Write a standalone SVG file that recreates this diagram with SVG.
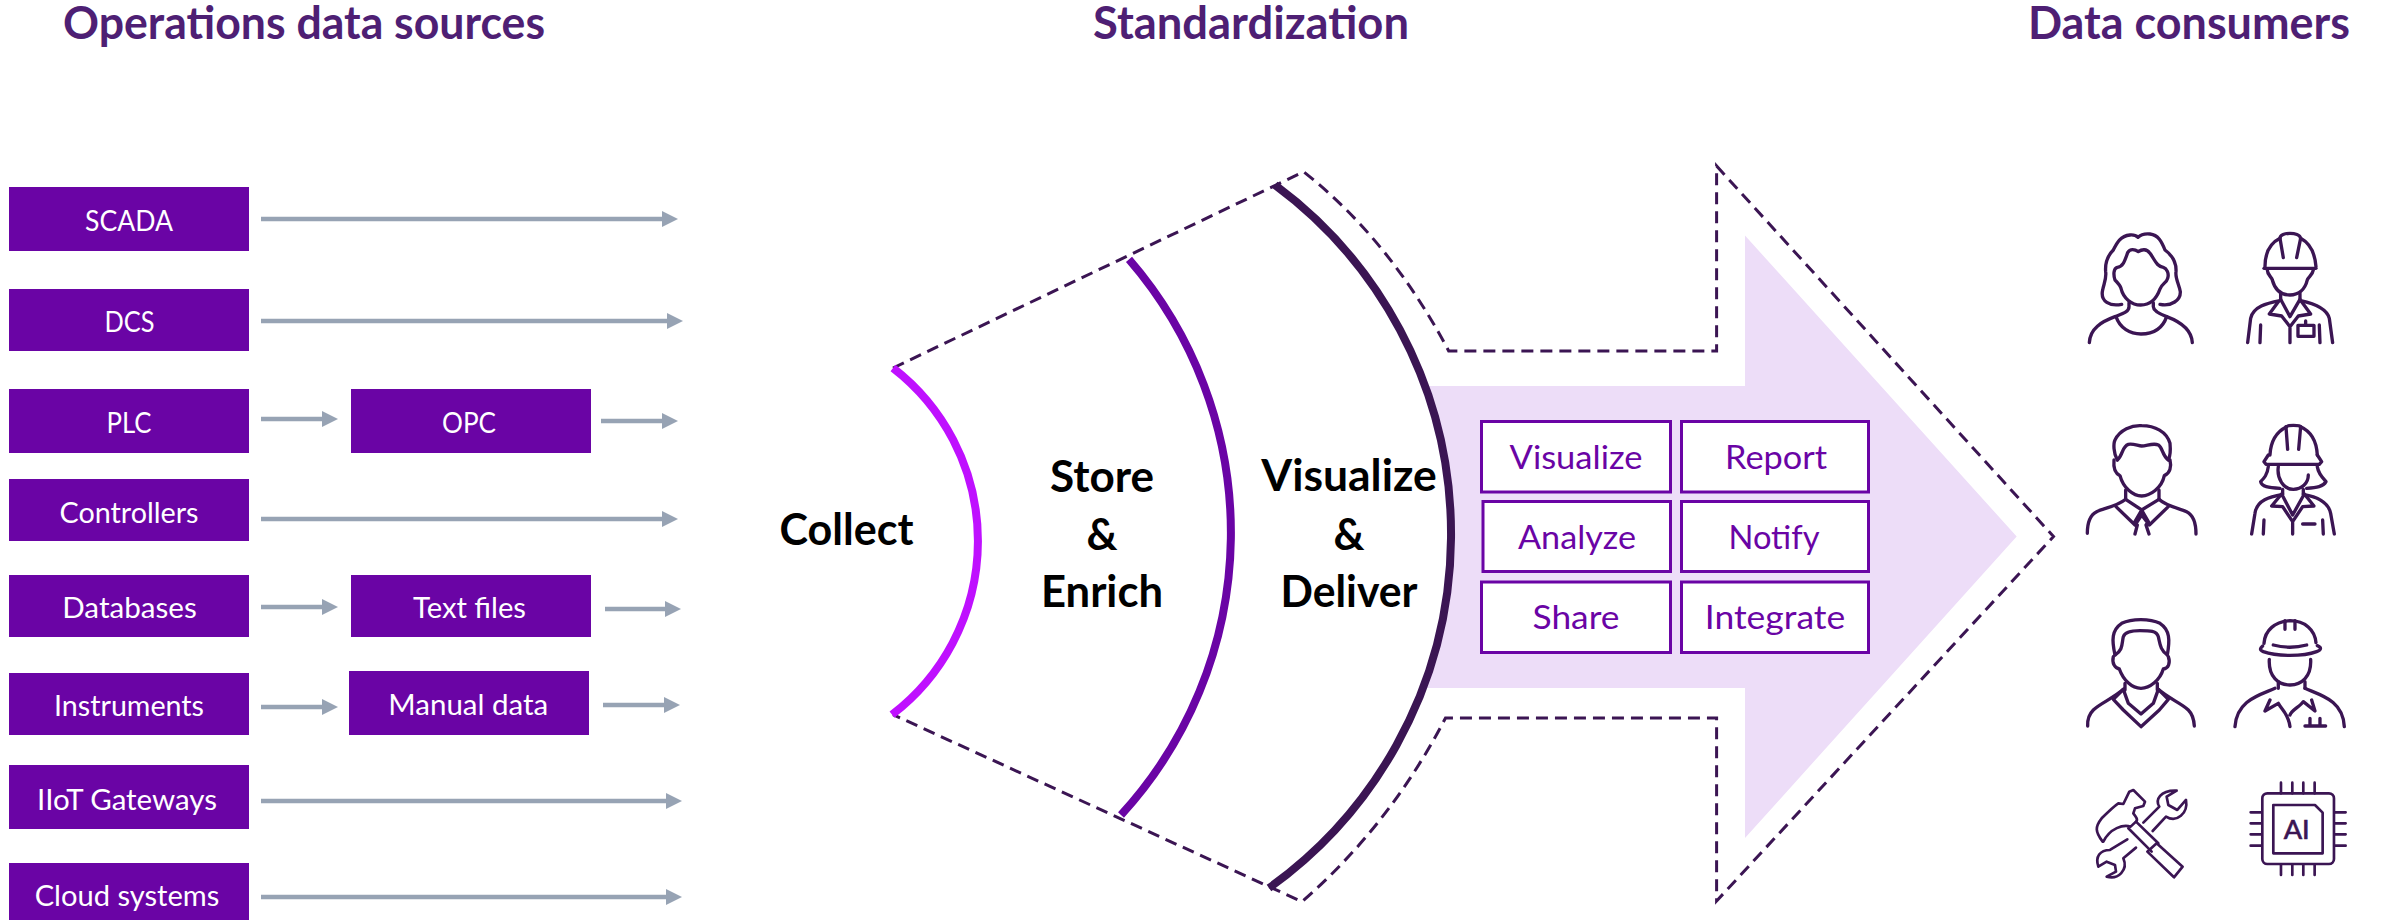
<svg xmlns="http://www.w3.org/2000/svg" width="2384" height="920" viewBox="0 0 2384 920">
<style>
text{font-family:Lato,"Liberation Sans",sans-serif;lengthAdjust:spacingAndGlyphs}
.title{font-size:45px;font-weight:700;fill:#4E1F74}
.src rect{fill:#6A04A5}
.src text{font-size:29px;fill:#fff;text-anchor:middle}
.flow{stroke:#97A3B4;stroke-width:4.5;fill:none;marker-end:url(#ah)}
.dash{fill:none;stroke:#3B1553;stroke-width:3;stroke-dasharray:12 7}
.arc{fill:none;stroke-width:8}
.stage{font-size:44px;font-weight:700;fill:#000;text-anchor:middle}
.act rect{fill:#fff;stroke:#6A04A5;stroke-width:3}
.act text{font-size:33px;fill:#6A04A5;text-anchor:middle}
.icon{fill:none;stroke:#3B1553;stroke-width:10;stroke-linecap:round;stroke-linejoin:round}
.thin{stroke-width:8}
</style>
<defs>
<marker id="ah" markerUnits="userSpaceOnUse" markerWidth="16" markerHeight="16" refX="0" refY="8" orient="auto"><path d="M0,0L16,8L0,16Z" fill="#97A3B4"/></marker>
</defs>
<text class="title" x="63" y="39" textLength="482" lengthAdjust="spacingAndGlyphs">Operations data sources</text>
<text class="title" x="1093" y="39" textLength="316" lengthAdjust="spacingAndGlyphs">Standardization</text>
<text class="title" x="2028" y="39" textLength="322" lengthAdjust="spacingAndGlyphs">Data consumers</text>

<g id="connectors">
<line class="flow" x1="261" y1="219" x2="662" y2="219"/>
<line class="flow" x1="261" y1="321" x2="667" y2="321"/>
<line class="flow" x1="261" y1="419" x2="322" y2="419"/>
<line class="flow" x1="601" y1="421" x2="662" y2="421"/>
<line class="flow" x1="261" y1="519" x2="662" y2="519"/>
<line class="flow" x1="261" y1="607" x2="322" y2="607"/>
<line class="flow" x1="605" y1="609" x2="665" y2="609"/>
<line class="flow" x1="261" y1="707" x2="322" y2="707"/>
<line class="flow" x1="603" y1="705" x2="664" y2="705"/>
<line class="flow" x1="261" y1="801" x2="666" y2="801"/>
<line class="flow" x1="261" y1="897" x2="666" y2="897"/>
</g>

<g id="scada" class="src"><rect x="9" y="187" width="240" height="64"/><text x="129" y="231" textLength="88" lengthAdjust="spacingAndGlyphs">SCADA</text></g>
<g id="dcs" class="src"><rect x="9" y="289" width="240" height="62"/><text x="129.5" y="331.5" textLength="50" lengthAdjust="spacingAndGlyphs">DCS</text></g>
<g id="plc" class="src"><rect x="9" y="389" width="240" height="64"/><text x="129" y="432.5" textLength="45" lengthAdjust="spacingAndGlyphs">PLC</text></g>
<g id="opc" class="src"><rect x="351" y="389" width="240" height="64"/><text x="469" y="432.5" textLength="54" lengthAdjust="spacingAndGlyphs">OPC</text></g>
<g id="controllers" class="src"><rect x="9" y="479" width="240" height="62"/><text x="129" y="522.5" textLength="139" lengthAdjust="spacingAndGlyphs">Controllers</text></g>
<g id="databases" class="src"><rect x="9" y="575" width="240" height="62"/><text x="129.5" y="617.5" textLength="134.5" lengthAdjust="spacingAndGlyphs">Databases</text></g>
<g id="textfiles" class="src"><rect x="351" y="575" width="240" height="62"/><text x="469.5" y="618" textLength="113" lengthAdjust="spacingAndGlyphs">Text files</text></g>
<g id="instruments" class="src"><rect x="9" y="673" width="240" height="62"/><text x="129" y="716" textLength="150" lengthAdjust="spacingAndGlyphs">Instruments</text></g>
<g id="manualdata" class="src"><rect x="349" y="671" width="240" height="64"/><text x="468.3" y="715" textLength="160" lengthAdjust="spacingAndGlyphs">Manual data</text></g>
<g id="iiot" class="src"><rect x="9" y="765" width="240" height="64"/><text x="127" y="810" textLength="180" lengthAdjust="spacingAndGlyphs">IIoT Gateways</text></g>
<g id="cloud" class="src"><rect x="9" y="863" width="240" height="57"/><text x="127" y="906" textLength="184.6" lengthAdjust="spacingAndGlyphs">Cloud systems</text></g>

<g id="arrow-fill"><path d="M1424,386L1745,386L1745,235.5L2016.7,536.5L1745,838L1745,688L1424,688A434.6,434.6 0 0 0 1424,386Z" fill="#EDDDF8"/></g>
<g id="outline"><path class="dash" d="M893,368L1303.7,171.8Q1390,240 1448.7,351L1716.6,351L1716.6,166L2053.5,536.5L1716.6,901L1716.6,718L1445.5,718Q1390,825 1302,901.7L893,714.6"/></g>

<g id="collect"><path class="arc" stroke="#BF10FF" d="M893,368A218.5,218.5 0 0 1 892,714.6"/><text class="stage" x="846.5" y="545" textLength="134" lengthAdjust="spacingAndGlyphs">Collect</text></g>
<g id="store"><path class="arc" stroke="#6A04A5" d="M1129,259.4A417.5,417.5 0 0 1 1121,815"/><text class="stage" x="1102" y="492" textLength="104" lengthAdjust="spacingAndGlyphs">Store</text><text class="stage" x="1102" y="549.5" textLength="31" lengthAdjust="spacingAndGlyphs">&amp;</text><text class="stage" x="1102" y="607" textLength="122" lengthAdjust="spacingAndGlyphs">Enrich</text></g>
<g id="visualize-deliver"><path class="arc" stroke="#3B1553" d="M1275,185A434.6,434.6 0 0 1 1269,888"/><text class="stage" x="1349" y="491" textLength="175.5" lengthAdjust="spacingAndGlyphs">Visualize</text><text class="stage" x="1349" y="549.5" textLength="31" lengthAdjust="spacingAndGlyphs">&amp;</text><text class="stage" x="1349" y="607" textLength="137" lengthAdjust="spacingAndGlyphs">Deliver</text></g>

<g id="a-visualize" class="act"><rect x="1481.5" y="421.5" width="189" height="70.5"/><text x="1576" y="469" textLength="133" lengthAdjust="spacingAndGlyphs">Visualize</text></g>
<g id="a-report" class="act"><rect x="1681.5" y="421.5" width="187" height="70.5"/><text x="1776" y="469" textLength="102" lengthAdjust="spacingAndGlyphs">Report</text></g>
<g id="a-analyze" class="act"><rect x="1483" y="501.5" width="187.5" height="70"/><text x="1577" y="549" textLength="118" lengthAdjust="spacingAndGlyphs">Analyze</text></g>
<g id="a-notify" class="act"><rect x="1681.5" y="501.5" width="187" height="70"/><text x="1774" y="549" textLength="91" lengthAdjust="spacingAndGlyphs">Notify</text></g>
<g id="a-share" class="act"><rect x="1481.5" y="582" width="189" height="70.5"/><text x="1576" y="629" textLength="87" lengthAdjust="spacingAndGlyphs">Share</text></g>
<g id="a-integrate" class="act"><rect x="1681.5" y="582" width="187" height="70.5"/><text x="1775" y="629" textLength="140.5" lengthAdjust="spacingAndGlyphs">Integrate</text></g>

<g transform="translate(2060,210) scale(.3333)">
<g id="woman" class="icon"><path d="M185,283C150,290 120,275 128,240C132,220 140,205 137,185C135,160 140,140 160,120C170,100 180,78 210,75C222,74 230,78 234,82C240,76 250,70 270,72C295,75 305,95 315,120C335,135 350,155 348,185C345,205 358,225 361,245C362,270 335,290 300,283"/><path d="M235,125C225,118 210,115 203,128C195,150 190,170 172,172C160,175 160,195 165,210C175,220 180,225 183,235C190,265 215,285 242,285C270,285 290,265 300,237C305,222 320,218 323,205C328,190 320,175 310,172C290,170 285,150 270,130C260,115 245,118 235,125Z"/><path d="M207,278L207,290C207,305 190,310 165,320C125,335 90,355 88,398"/><path d="M280,278L280,290C280,300 295,310 320,320C360,335 395,360 397,398"/><path d="M168,320C180,355 210,372 243,372C280,372 308,355 320,320"/></g>
<g id="worker-1" class="icon"><path d="M612,175L768,175"/><path d="M615,170C615,130 630,100 660,85C660,75 675,70 690,70C705,70 720,75 722,85C750,100 765,130 768,170"/><path d="M660,85L670,143M722,85L710,143"/><path d="M622,180C622,195 635,200 637,210C645,240 665,255 690,255C715,255 735,240 742,210C745,200 758,195 760,180"/><path d="M662,250L662,270M720,250L720,270"/><path d="M660,272C620,280 580,290 572,325L563,398M722,272C760,280 800,295 808,325L818,398"/><path d="M655,275L628,312L665,318L690,350L715,318L752,312L725,275M662,268L690,320L720,268M690,350L690,398M602,345L600,398M778,345L780,398"/><rect x="714" y="346" width="48" height="33"/><path d="M737,333L737,346"/></g>
<g id="man-tie" class="icon"><path d="M172,750C160,730 160,700 165,690C180,660 215,645 245,647C285,647 320,665 330,700C332,720 332,735 325,750"/><path d="M172,750C190,735 185,710 205,703C220,700 235,708 245,708C260,708 280,698 295,705C310,715 305,735 325,750"/><path d="M162,750C160,770 165,790 180,797C190,835 220,858 245,858C270,858 305,835 313,797C330,790 335,770 330,750"/><path d="M197,840L197,865M297,840L297,865"/><path d="M197,868C170,890 130,895 110,905C90,915 82,935 82,970M297,868C320,890 360,895 380,905C400,915 408,935 408,972"/><path d="M197,868L245,900L297,868M168,890L225,945L245,915L268,945L325,890M245,900L225,935L232,945L225,972M245,900L265,935L258,945L267,972"/></g>
<g id="woman-worker" class="icon"><path d="M625,735L612,755L618,763L778,763L785,755L772,735"/><path d="M630,735C632,690 650,665 680,650C680,645 720,645 722,650C755,665 770,695 772,735"/><path d="M678,650L683,718M722,650L716,718"/><path d="M625,770C622,795 612,805 602,815C605,830 625,833 660,835M772,770C775,790 785,800 798,815C790,830 770,833 740,835"/><path d="M655,770C650,805 670,838 700,838C725,838 745,820 745,795"/><path d="M668,838L668,852M730,838L730,852"/><path d="M668,853C630,860 590,870 585,910L575,972M730,853C770,860 805,875 812,910L823,972"/><path d="M665,852L635,888L668,890L698,935L728,890L762,888L733,852M665,852L698,915L733,852M698,935L698,972M612,930L610,972M788,930L790,972M728,942L765,942"/></g>
</g>
<g transform="translate(2060,600) scale(.3333)">
<g id="man-sweater" class="icon"><path d="M165,165C155,120 155,90 185,70C215,55 270,55 300,70C330,90 330,120 322,165"/><path d="M165,165C190,150 185,130 190,110C195,95 215,92 240,92C270,92 290,92 295,110C300,130 300,150 322,165"/><path d="M160,170C155,190 165,205 178,207C190,240 215,265 243,265C270,265 300,240 310,207C325,205 332,190 325,170"/><path d="M195,250L195,270M292,250L292,270"/><path d="M190,268C160,295 120,310 100,330C85,345 82,360 83,378M295,268C325,295 365,310 385,330C400,345 402,360 403,378"/><path d="M205,310L243,342L280,310M190,268L160,298L190,330L243,380L298,330L325,298L295,268M190,268L205,310M295,268L280,310"/></g>
<g id="worker-2" class="icon"><path d="M612,130C615,90 645,65 690,62C735,62 765,90 768,128"/><path d="M675,62L675,88M705,62L705,88"/><path d="M608,138C600,145 598,150 610,155C650,170 730,170 770,155C785,150 785,142 772,137"/><path d="M640,135C670,143 710,143 740,135"/><path d="M628,178C625,230 655,255 690,255C725,255 755,230 752,178"/><path d="M655,245L655,265M735,245L735,265"/><path d="M645,265C600,285 530,300 525,380M735,265C780,285 850,300 853,380"/><path d="M630,300L615,333L655,310C665,330 685,340 690,380M690,345C695,330 720,320 730,305L765,333L755,300"/><path d="M735,378L797,378M750,355L750,378M780,355L780,378"/></g>
<g id="tools" class="icon thin"><path d="M128,725C105,695 105,680 125,655C145,635 160,620 175,610L190,612L208,575L220,570L255,605L250,618L225,625L220,640C228,650 235,660 228,665L212,680C190,672 150,685 130,725Z"/><path d="M205,685L275,755M228,665L295,730"/><path d="M262,755L290,730L368,800L342,832Z"/><path d="M250,668L298,620C285,600 300,570 350,572L320,590L325,615L352,630L378,600C385,640 350,670 318,650L278,693"/><path d="M202,718L150,750C120,750 105,770 115,800L140,785L165,795L168,815L140,830C175,840 205,810 190,775L228,743"/></g>
<g id="ai-chip"><g class="icon thin"><rect x="607" y="580" width="215" height="212" rx="15"/><path d="M640,615L765,615L788,638L788,760L640,760Z"/><path d="M663,548L663,580M697,548L697,580M730,548L730,580M764,548L764,580M663,795L663,825M697,795L697,825M730,795L730,825M764,795L764,825M572,637L605,637M572,670L605,670M572,703L605,703M572,737L605,737M825,637L857,637M825,670L857,670M825,703L857,703M825,737L857,737"/></g><text x="710" y="716" font-size="78" fill="#3B1553" stroke="#3B1553" stroke-width="2" text-anchor="middle" textLength="78" lengthAdjust="spacingAndGlyphs">AI</text></g>
</g>
</svg>
